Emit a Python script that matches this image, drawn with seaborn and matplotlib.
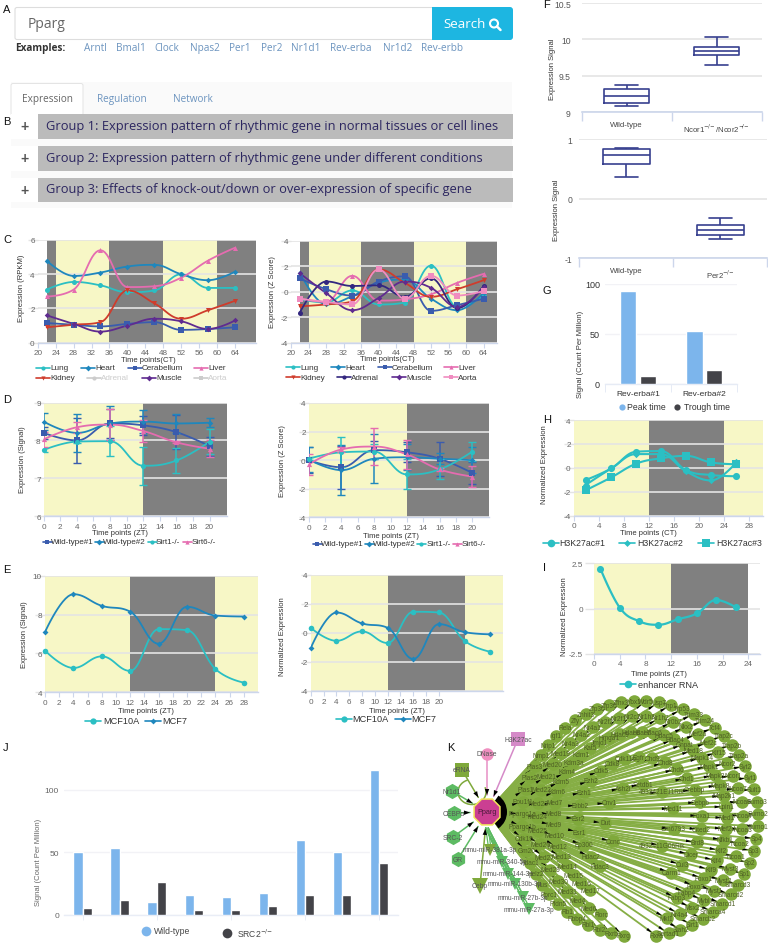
import numpy as np
import pandas as pd
import matplotlib
matplotlib.use("Agg")
import matplotlib.pyplot as plt
from matplotlib.collections import LineCollection
from matplotlib.patches import Circle, FancyBboxPatch, Rectangle, Wedge, Arc, RegularPolygon
import seaborn as sns

# ---------- data ----------
C_X = [22, 28, 34, 40, 46, 52, 58, 64]
C1_LUNG = [3.1, 3.55, 3.35, 2.95, 3.05, 4.0, 3.2, 3.2]
C1_HEART = [4.8, 3.9, 4.1, 4.45, 4.55, 4.0, 3.65, 4.15]
C1_CERE = [1.15, 1.05, 0.95, 1.1, 1.2, 0.75, 0.8, 0.9]
C1_LIVER = [2.7, 3.1, 5.4, 3.25, 3.3, 3.8, 4.8, 5.55]
C1_KIDNEY = [0.9, 1.05, 1.2, 3.05, 2.3, 1.4, 1.9, 2.45]
C1_MUSCLE = [1.6, 1.1, 0.65, 1.0, 1.4, 1.25, 0.8, 1.3]
C2_LUNG = [-0.6, -0.85, 0.1, -1.0, -0.85, 2.05, -1.2, -0.3]
C2_HEART = [1.5, -1.0, -0.35, 0.7, 0.95, -0.55, -1.45, -0.1]
C2_CERE = [1.05, 0.2, -0.3, 0.8, 1.2, -1.5, -1.05, -0.55]
C2_LIVER = [-0.55, -0.8, 1.25, -0.7, -0.6, -0.2, 0.7, 1.4]
C2_KIDNEY = [-1.15, -1.0, -0.75, 1.75, 0.7, -0.4, 0.2, 0.9]
C2_ADRENAL = [-1.65, 0.8, 0.45, 0.5, -0.4, 1.05, -1.3, 0.45]
C2_MUSCLE = [1.45, -0.1, -1.45, -0.5, 0.8, 0.3, -1.2, 0.35]
C2_AORTA = [-0.55, -0.8, -1.0, 1.75, -0.55, 1.25, -0.3, 0.05]

D_X = [0, 4, 8, 12, 16, 20]
D1_WT1 = [8.2, 8.0, 8.45, 8.4, 8.22, 7.85]
D1_WT1_E = [0.15, 0.6, 0.38, 0.25, 0.45, 0.25]
D1_WT2 = [8.5, 8.2, 8.45, 8.5, 8.45, 8.47]
D1_WT2_E = [0.23, 0.5, 0.45, 0.3, 0.25, 0.12]
D1_S1 = [7.75, 7.97, 7.98, 7.33, 7.47, 7.97]
D1_S1_E = [0.05, 0.03, 0.4, 0.5, 0.32, 0.33]
D1_S6 = [8.03, 8.35, 8.42, 8.25, 7.95, 7.78]
D1_S6_E = [0.2, 0.15, 0.4, 0.3, 0.03, 0.22]
D2_WT1 = [0.0, -0.5, 0.7, 0.55, 0.1, -0.9]
D2_WT1_E = [0.9, 1.5, 0.65, 0.7, 1.2, 0.75]
D2_WT2 = [0.05, -0.7, 0.1, 0.2, 0.1, 0.0]
D2_WT2_E = [0.85, 1.75, 1.7, 0.9, 0.4, 0.9]
D2_S1 = [0.1, 0.55, 0.6, -1.0, -0.65, 0.6]
D2_S1_E = [0.1, 1.05, 0.5, 1.05, 0.7, 0.65]
D2_S6 = [-0.3, 0.75, 0.95, 0.4, -0.65, -1.15]
D2_S6_E = [0.75, 0.2, 1.3, 1.0, 0.1, 0.75]

E_X = [0, 4, 8, 12, 16, 20, 24, 28]
E1_10A = [6.15, 5.25, 5.85, 5.1, 7.25, 7.2, 5.2, 4.5]
E1_MCF7 = [7.1, 9.05, 8.45, 8.15, 6.5, 8.4, 7.95, 7.9]
E2_10A = [0.35, -0.55, 0.1, -0.7, 1.45, 1.4, -0.55, -1.3]
E2_MCF7 = [-1.05, 1.4, 0.65, 0.35, -1.8, 0.6, 0.05, -0.1]

F1_CATS = ["Wild-type", r"Ncor1$^{-\!/\!-}$/Ncor2$^{-\!/\!-}$"]
F1_WT = [9.08, 9.13, 9.22, 9.32, 9.37]
F1_KO = [9.65, 9.78, 9.84, 9.9, 10.03]
F2_CATS = ["Wild-type", r"Per2$^{-\!/\!-}$"]
F2_WT = [0.36, 0.58, 0.74, 0.83, 0.85]
F2_KO = [-0.68, -0.61, -0.53, -0.44, -0.33]

G_CATS = ["Rev-erba#1", "Rev-erba#2"]
G_PEAK = [93, 53]
G_TROUGH = [8.5, 14]

H_X = [2, 6, 10, 14, 18, 22, 26]
H_1 = [-1.0, -0.05, 1.35, 1.4, -0.2, -0.6, -0.7]
H_2 = [-1.4, -0.05, 1.15, 1.15, -0.3, -1.05, 0.45]
H_3 = [-1.85, -0.8, 0.35, 0.8, 1.0, 0.45, 0.3]

I_X = [1, 4, 7, 10, 13, 16, 19, 22]
I_Y = [2.2, 0.05, -0.7, -0.9, -0.6, -0.27, 0.47, 0.07]

J_CATS = ["S1", "S2", "S3", "S4", "S5", "S6", "S7", "S8", "S9"]
J_WT = [50, 53, 10.5, 16, 14, 17.5, 60, 50, 116]
J_KO = [5, 12, 26, 3.5, 3.5, 7, 16, 16, 41]

EXAMPLES = ["Arntl", "Bmal1", "Clock", "Npas2", "Per1", "Per2", "Nr1d1", "Rev-erba", "Nr1d2", "Rev-erbb"]
GROUPS = ["Group 1: Expression pattern of rhythmic gene in normal tissues or cell lines",
          "Group 2: Expression pattern of rhythmic gene under different conditions",
          "Group 3: Effects of knock-out/down or over-expression of specific gene"]

RING_A = ["Rxrg", "Rxrb", "Rbl2", "Rbl1", "Rbbp4", "Rb1", "Pfdn5", "Pprc1", "Mus", "Helz2", "Hdac1", "Gm20", "Cdk19",
          "Ppargc1b", "Ppargc1a", "Pou1f1", "Plas1", "Plas2", "Plas3", "Nmp1", "Nrip1", "Igf1", "Rela", "Zfy", "Znhit3",
          "Zfp30", "Zfp36", "Zfhx3", "Ybx1", "Wdr5", "Usp7", "Tnp1", "Trp53", "Trim33", "Trim24", "Tcf4", "Tfap2c",
          "Tfap2b", "Tfap2a", "Syt2", "Syt1", "Sult1", "Sumo3", "Sumo2", "Sumo1", "Sp4", "Sp3", "Sp2", "Sp1",
          "Smarcd3", "Smarcd2", "Smarcd1", "Smarca4", "Smarcb2", "Sirt1", "Siah2", "Sertad1", "Rxra"]
RING_B = ["Rorc", "Med6", "Med4", "Med31", "Med30", "Med29", "Med27", "Med26", "Med25", "Med24", "Med23", "Med22",
          "Med21", "Med20", "Med19", "Nr4a3", "Nr4a2", "Nr4a1", "Nr2f2", "Nr2f1", "Nr2c2", "Nr1h3", "Nr1h2", "Nr0b2",
          "Nkx2", "Mef2a", "Mef2c", "Klf15", "Ncor2", "Ncor1", "Ncoa7", "Ncoa6", "Ncoa4", "Ncoa3", "Ncoa2", "Ncoa1",
          "Myst3", "Myst2", "Myst1", "Mybl", "Msx2", "Nr4a4", "Mkl1"]
RING_C = ["Med17", "Med16", "Med15", "Med14", "Med13", "Med12", "Med10", "Med9", "Med8", "Med7", "Kdm6", "Kdm5",
          "Kdm4", "Kdm3a", "Kdm1", "Kat5", "Jmjd1", "Hmga1", "Hdac9", "Hdac8", "Hdac7", "Hdac6", "Hdac5", "Hdac4",
          "Gnpat", "Med18", "Mapk14", "Mapk1", "Mapk3", "Mapk8", "Map2k1", "Lpin1", "Med1", "Mef2d", "Nfkb1", "Klf2",
          "Klf4", "Klf9", "Foxo1", "Foxo3", "Fabp4", "Fabp3"]
RING_D = ["Hdac3", "Hdac2", "Ep300", "Esr1", "Esr2", "Erbb2", "Ezh1", "Ezh2", "Cdk5", "Cdk8", "Cdk11b", "Egfr", "Chd9",
          "Chd8", "Chd6", "Chd1", "Crebbp", "Cebpb", "Foxa1", "Cited2", "Brd8", "Dicer", "Cul3", "Carm1"]
RING_E = ["Ccnc", "Dut", "Cnv1", "Ash2l", "Setdb1", "4933421E11Rik", "Med11", "Gm6793", "4932411G06Rik"]
MIRNAS = ["mmu-miR-381a-3p", "mmu-miR-340-5p", "mmu-miR-144-3p", "mmu-miR-130b-3p", "mmu-miR-27b-3p", "mmu-miR-27a-3p"]

# ---------- style ----------
W, H = 768, 945
sns.set_theme(style="white")
plt.rcParams["font.family"] = ["Liberation Sans", "DejaVu Sans"]
plt.rcParams["mathtext.fontset"] = "dejavusans"
TEAL, BLUE, NAVY, PINK = "#2bbfc3", "#1f87bd", "#3a5cae", "#e56cb0"
RED, INDIGO, PURPLE, APINK = "#cf3c2c", "#33277f", "#5f2b90", "#f08cc0"
YEL, GRY = "#f7f7c6", "#808080"
GRID, AXC, LAB = "#e4e4e4", "#ccd6eb", "#666666"
BAR1, BAR2 = "#7cb5ec", "#434348"
BOXC = "#37408f"
FS = 5.9
TS = 5.5

fig = plt.figure(figsize=(W / 100, H / 100), dpi=100, facecolor="white")
px = 0.72


def panel(left, right, top, bottom):
    return fig.add_axes([left / W, 1 - bottom / H, (right - left) / W, (bottom - top) / H])


def spline(xs, ys, n=14):
    xs, ys = np.asarray(xs, float), np.asarray(ys, float)
    m = len(xs)
    lx, ly, rx, ry = xs.copy(), ys.copy(), xs.copy(), ys.copy()
    for i in range(1, m - 1):
        lx[i] = (1.5 * xs[i] + xs[i - 1]) / 2.5
        ly[i] = (1.5 * ys[i] + ys[i - 1]) / 2.5
        rx[i] = (1.5 * xs[i] + xs[i + 1]) / 2.5
        ry[i] = (1.5 * ys[i] + ys[i + 1]) / 2.5
        c = (ry[i] - ly[i]) * (rx[i] - xs[i]) / (rx[i] - lx[i]) + ys[i] - ry[i]
        ly[i] += c
        ry[i] += c
        if ly[i] > max(ys[i - 1], ys[i]):
            ly[i] = max(ys[i - 1], ys[i])
            ry[i] = 2 * ys[i] - ly[i]
        elif ly[i] < min(ys[i - 1], ys[i]):
            ly[i] = min(ys[i - 1], ys[i])
            ry[i] = 2 * ys[i] - ly[i]
        if ry[i] > max(ys[i], ys[i + 1]):
            ry[i] = max(ys[i], ys[i + 1])
            ly[i] = 2 * ys[i] - ry[i]
        elif ry[i] < min(ys[i], ys[i + 1]):
            ry[i] = min(ys[i], ys[i + 1])
            ly[i] = 2 * ys[i] - ry[i]
    t = np.linspace(0, 1, n, endpoint=False)[:, None]
    out = []
    for i in range(m - 1):
        p0, p1 = np.array([xs[i], ys[i]]), np.array([rx[i], ry[i]])
        p2, p3 = np.array([lx[i + 1], ly[i + 1]]), np.array([xs[i + 1], ys[i + 1]])
        out.append((1 - t) ** 3 * p0 + 3 * (1 - t) ** 2 * t * p1 + 3 * (1 - t) * t ** 2 * p2 + t ** 3 * p3)
    out.append(np.array([[xs[-1], ys[-1]]]))
    out = np.vstack(out)
    return out[:, 0], out[:, 1]


def style_axes(ax, xticks, yticks, tl=10, yfmt=None):
    for s in ["top", "right", "left"]:
        ax.spines[s].set_visible(False)
    ax.spines["bottom"].set_color(AXC)
    ax.spines["bottom"].set_linewidth(1.0)
    ax.set_axisbelow("line")
    ax.yaxis.grid(True, color=GRID, lw=1.2)
    ax.xaxis.grid(False)
    ax.set_xticks(xticks)
    ax.set_yticks(yticks)
    if yfmt:
        ax.set_yticklabels(yfmt)
    ax.tick_params(axis="x", length=5 * px, width=0.8, color=AXC, labelsize=FS, labelcolor=LAB, pad=1.2, bottom=True)
    ax.tick_params(axis="y", length=tl * px, width=1.0, color=GRID, labelsize=FS, labelcolor=LAB,
                   pad=-(tl - 3) * px, left=True)
    ax.set_xlabel("")
    ax.set_ylabel("")


def labels(ax, box, xl=None, yl=None):
    if xl:
        fig.text(xl[1] / W, 1 - (xl[2] + 0.8) / H, xl[0], fontsize=TS, color="#333333", ha="center", va="center")
    if yl:
        fig.text(yl[1] / W, 1 - yl[2] / H, yl[0], fontsize=TS, color="#333333", ha="center", va="center",
                 rotation=90)


def time_panel(box, xlim, ylim, xticks, yticks, bands, xl, yl, tl=10, yfmt=None):
    ax = panel(*box)
    ax.set_xlim(*xlim)
    ax.set_ylim(*ylim)
    for a, b, c in bands:
        ax.axvspan(a, b, facecolor=c, edgecolor="none", lw=0, zorder=1)
    style_axes(ax, xticks, yticks, tl, yfmt)
    labels(ax, box, xl, yl)
    return ax


def series(ax, xs, ys, color, marker, ms=14, lw=1.3, yerr=None):
    cx, cy = spline(xs, ys)
    sns.lineplot(x=cx, y=cy, color=color, lw=lw, ax=ax, legend=False, sort=False, estimator=None, zorder=3)
    if yerr is not None:
        ax.errorbar(xs, ys, yerr=yerr, fmt="none", ecolor=color, elinewidth=1.1, capsize=3.2, capthick=1.0, zorder=3)
    sns.scatterplot(x=list(xs), y=list(ys), color=color, marker=marker, s=ms, ax=ax, legend=False,
                    edgecolor=color, linewidth=0, zorder=4, clip_on=False)
    ax.set_xlabel("")
    ax.set_ylabel("")


# overlay in pixel units
ov = fig.add_axes([0, 0, 1, 1], zorder=5)
ov.set_xlim(0, W)
ov.set_ylim(H, 0)
ov.axis("off")
ov.patch.set_alpha(0)


def key(x, tx, y, text, color, marker, ms=3.0, half=7, tc="#333333", fs=FS, line=True):
    if line:
        ov.plot([x - half, x + half], [y, y], color=color, lw=1.2, solid_capstyle="round")
    ov.plot([x], [y], marker=marker, ms=ms, color=color, mew=0)
    ov.text(tx, y, text, fontsize=fs, color=tc, va="center", ha="left")


# ---------- A / B: page chrome ----------
ov.add_patch(FancyBboxPatch((15, 8.5), 425, 32, boxstyle="round,pad=0,rounding_size=2", fc="white", ec="#dddddd", lw=0.8))
ov.add_patch(FancyBboxPatch((432, 8), 81, 33, boxstyle="round,pad=0,rounding_size=3", fc="#1db6e1", ec="none"))
ov.add_patch(Rectangle((432, 8), 6, 33, fc="#1db6e1", ec="none"))
ov.text(28, 25, "Pparg", fontsize=10, color="#666666", family="Open Sans", va="center")
ov.text(443.5, 25, "Search", fontsize=9.6, color="white", family="Open Sans", va="center")
ov.add_patch(Circle((494, 24.5), 4, fc="none", ec="white", lw=1.5))
ov.plot([497, 500.5], [27.5, 31], color="white", lw=1.8, solid_capstyle="round")
ov.text(15, 48.5, "Examples:", fontsize=7.2, color="#333333", family="Open Sans", weight="bold", va="center")
for name, x in zip(EXAMPLES, [84, 116, 154.5, 190, 229.5, 260.5, 291, 330, 382.5, 421.5]):
    ov.text(x, 48.5, name, fontsize=7.2, color="#6c94bf", family="Open Sans", va="center")
ov.add_patch(Rectangle((11, 83), 501, 126, fc="#fafafa", ec="none", zorder=0))
ov.add_patch(FancyBboxPatch((11, 84.5), 72, 32, boxstyle="round,pad=0,rounding_size=2", fc="white", ec="#e4e4e4", lw=0.7, zorder=0.5))
for name, x, c in zip(["Expression", "Regulation", "Network"], [22, 97, 173], ["#666666", "#6c94bf", "#6c94bf"]):
    ov.text(x, 99.5, name, fontsize=7.2, color=c, family="Open Sans", va="center")
for g, y in zip(GROUPS, [115, 147, 178.5]):
    ov.add_patch(Rectangle((11, y), 27, 24.5, fc="white", ec="none"))
    ov.add_patch(Rectangle((38, y), 474.5, 24.5, fc="#bbbbbb", ec="none"))
    ov.text(24.5, y + 12.2, "+", fontsize=10, color="#555555", weight="bold", ha="center", va="center")
    ov.text(46.5, y + 11.5, g, fontsize=9.3, color="#2c2660", family="Open Sans", va="center")
for s, x, y in [("A", 3, 10), ("B", 3, 122), ("C", 3, 240), ("D", 3, 400), ("E", 3, 570), ("F", 546, 5),
                ("G", 547, 291), ("H", 547, 420), ("I", 544, 568), ("J", 3, 748), ("K", 451, 748)]:
    ov.text(x, y, s, fontsize=8, color="#111111", ha="center" if x > 100 else "left", va="center")

# ---------- C ----------
C_BANDS = [(22, 24, GRY), (24, 36, YEL), (36, 48, GRY), (48, 60, YEL), (60, 70, GRY)]
C_T = list(range(20, 65, 4))
ax = time_panel((37.7, 255.7, 241, 343.7), (20, 68.6), (0, 6), C_T, [0, 2, 4, 6], C_BANDS,
                ("Time points(CT)", 148, 360), ("Expression (RPKM)", 22, 288))
for y, c, m in [(C1_LUNG, TEAL, "o"), (C1_HEART, BLUE, "D"), (C1_CERE, NAVY, "s"), (C1_LIVER, PINK, "^"),
                (C1_KIDNEY, RED, "v"), (C1_MUSCLE, PURPLE, "D")]:
    series(ax, C_X, y, c, m, ms=13 if m != "D" else 8)
for (x, tx, ty, t, c, m, tc) in [(43, 50, 369, "Lung", TEAL, "o", None), (88, 95, 369, "Heart", BLUE, "D", None),
                                 (135, 142, 369, "Cerabellum", NAVY, "s", None), (201, 208, 369, "Liver", PINK, "^", None),
                                 (43, 50, 379, "Kidney", RED, "v", None), (94, 101, 379, "Adrenal", "#cccccc", "o", "#cccccc"),
                                 (149, 156, 379, "Muscle", PURPLE, "D", None), (201, 208, 379, "Aorta", "#cccccc", "s", "#cccccc")]:
    key(x, tx, ty, t, c, m, tc=tc or "#333333")

ax = time_panel((291, 496.7, 241.7, 343.7), (20, 67), (-4, 4), C_T, [-4, -2, 0, 2, 4], C_BANDS,
                ("Time points(CT)", 387, 359), ("Expression (Z Score)", 273, 292),
                yfmt=["-4", "-2", "0", "2", "4"])
for y, c, m in [(C2_LUNG, TEAL, "o"), (C2_HEART, BLUE, "D"), (C2_CERE, NAVY, "s"), (C2_LIVER, PINK, "^"),
                (C2_KIDNEY, RED, "v"), (C2_ADRENAL, INDIGO, "o"), (C2_MUSCLE, PURPLE, "D"), (C2_AORTA, APINK, "s")]:
    series(ax, C_X, y, c, m, ms=13 if m != "D" else 8)
for (x, tx, ty, t, c, m) in [(293, 300, 368, "Lung", TEAL, "o"), (338, 345, 368, "Heart", BLUE, "D"),
                             (385, 392, 368, "Cerabellum", NAVY, "s"), (451, 458, 368, "Liver", PINK, "^"),
                             (293, 300, 378, "Kidney", RED, "v"), (344, 351, 378, "Adrenal", INDIGO, "o"),
                             (399, 406, 378, "Muscle", PURPLE, "D"), (451, 458, 378, "Aorta", APINK, "s")]:
    key(x, tx, ty, t, c, m)

# ---------- D ----------
D_T = list(range(0, 21, 2))
ax = time_panel((43.7, 226.7, 403.7, 517), (0, 22.05), (6, 9), D_T, [6, 7, 8, 9], [(0, 12, YEL), (12, 23, GRY)],
                ("Time points (ZT)", 120, 533), ("Expression (Signal)", 23, 460))
for y, e, c, m in [(D1_WT1, D1_WT1_E, NAVY, "s"), (D1_WT2, D1_WT2_E, BLUE, "D"),
                   (D1_S1, D1_S1_E, TEAL, "o"), (D1_S6, D1_S6_E, PINK, "^")]:
    series(ax, D_X, y, c, m, ms=14 if m != "D" else 8, yerr=e)
for x, tx, t, c, m in [(47, 51, "Wild-type#1", NAVY, "s"), (99, 103, "Wild-type#2", BLUE, "D"),
                       (152, 156, "Sirt1-/-", TEAL, "o"), (187, 192, "Sirt6-/-", PINK, "^")]:
    key(x, tx, 543, t, c, m, half=4.5)

ax = time_panel((308.7, 489, 404, 518.3), (0, 22.04), (-4, 4), D_T, [-4, -2, 0, 2, 4], [(0, 12, YEL), (12, 23, GRY)],
                ("Time points (ZT)", 391, 536), ("Expression (Z Score)", 283, 461), yfmt=["-4", "-2", "0", "2", "4"])
for y, e, c, m in [(D2_WT1, D2_WT1_E, NAVY, "s"), (D2_WT2, D2_WT2_E, BLUE, "D"),
                   (D2_S1, D2_S1_E, TEAL, "o"), (D2_S6, D2_S6_E, PINK, "^")]:
    series(ax, D_X, y, c, m, ms=14 if m != "D" else 8, yerr=e)
for x, tx, t, c, m in [(317, 321, "Wild-type#1", NAVY, "s"), (369, 373, "Wild-type#2", BLUE, "D"),
                       (421, 427, "Sirt1-/-", TEAL, "o"), (457, 462, "Sirt6-/-", PINK, "^")]:
    key(x, tx, 545, t, c, m, half=4.5)

# ---------- E ----------
ax = time_panel((45, 258.3, 576.7, 693.3), (0, 30.05), (4, 10), list(range(0, 29, 2)), [4, 6, 8, 10],
                [(0, 12, YEL), (12, 24, GRY), (24, 31, YEL)],
                ("Time points (ZT)", 146, 711), ("Expression (Signal)", 25, 635))
series(ax, E_X, E1_10A, TEAL, "o", ms=16)
series(ax, E_X, E1_MCF7, BLUE, "D", ms=9)
key(93, 103, 722, "MCF10A", TEAL, "o", ms=4.5, half=8, fs=6.6)
key(153, 162, 722, "MCF7", BLUE, "D", ms=3, half=8, fs=6.6)

ax = time_panel((310.7, 503, 575.7, 692), (0, 30), (-4, 4), list(range(0, 21, 2)), [-4, -2, 0, 2, 4],
                [(0, 12, YEL), (12, 24, GRY), (24, 31, YEL)],
                ("Time points (ZT)", 397, 711), ("Normalized Expression", 283, 637), yfmt=["-4", "-2", "0", "2", "4"])
series(ax, E_X, E2_10A, TEAL, "o", ms=16)
series(ax, E_X, E2_MCF7, BLUE, "D", ms=9)
key(344, 352, 720, "MCF10A", TEAL, "o", ms=4.5, half=8, fs=6.6)
key(403, 411, 720, "MCF7", BLUE, "D", ms=3, half=8, fs=6.6)


# ---------- F ----------
def box_panel(box, cats, a, b, ylim, yticks, yfmt, yl, ypad):
    ax = panel(*box)
    df = pd.DataFrame({"c": [cats[0]] * len(a) + [cats[1]] * len(b), "v": list(a) + list(b)})
    sns.boxplot(data=df, x="c", y="v", whis=(0, 100), width=0.5, fill=False, color=BOXC, linewidth=1.2, ax=ax)
    ax.set_xlim(-0.5, 1.5)
    ax.set_ylim(*ylim)
    style_axes(ax, [0, 1], yticks, tl=0, yfmt=yfmt)
    ax.set_xticks([-0.5, 0.5, 1.5], minor=True)
    ax.tick_params(axis="x", which="major", length=0, pad=6.5, colors="#444444", labelsize=5.6)
    ax.tick_params(axis="x", which="minor", length=9 * px, width=1.0, color=AXC, bottom=True)
    ax.tick_params(axis="y", pad=ypad * px, labelcolor="#555555", length=0, labelsize=FS + 0.3)
    ax.spines["bottom"].set_linewidth(1.2)
    labels(ax, box, None, yl)
    return ax


box_panel((581.7, 761.7, 4, 113.3), F1_CATS, F1_WT, F1_KO, (9, 10.5), [9, 9.5, 10, 10.5], ["9", "9.5", "10", "10.5"],
          ("Expression Signal", 553, 69), 11)
box_panel((579.3, 767.3, 140, 259.3), F2_CATS, F2_WT, F2_KO, (-1, 1), [-1, 0, 1], ["-1", "0", "1"],
          ("Expression Signal", 557, 210), 7)


# ---------- G / J bars ----------
def bar_panel(box, cats, a, b, ylim, yticks, width, gap):
    ax = panel(*box)
    df = pd.DataFrame({"c": list(cats) * 2, "v": list(a) + list(b),
                       "s": ["a"] * len(cats) + ["b"] * len(cats)})
    sns.barplot(data=df, x="c", y="v", hue="s", palette={"a": BAR1, "b": BAR2}, width=width, gap=gap, saturation=1,
                legend=False, ax=ax, zorder=3, errorbar=None)
    ax.set_xlim(-0.5, len(cats) - 0.5)
    ax.set_ylim(*ylim)
    style_axes(ax, list(range(len(cats))), yticks, tl=0)
    ax.yaxis.grid(True, color="#f2f2f6", lw=1.0)
    ax.tick_params(axis="y", pad=5 * px, length=0)
    return ax


ax = bar_panel((605, 737.3, 285, 385), G_CATS, G_PEAK, G_TROUGH, (0, 100), [0, 50, 100], 0.6, 0.17)
ax.spines["bottom"].set_color("#e6ebf5")
ax.set_xticks([-0.5, 0.5, 1.5], minor=True)
ax.tick_params(axis="x", which="major", length=0, pad=4, labelcolor="#333333", labelsize=FS + 0.1)
ax.tick_params(axis="x", which="minor", length=8 * px, width=0.7, color="#e6ebf5", bottom=True)
ax.tick_params(axis="y", labelcolor="#333333", labelsize=FS + 0.6)
labels(ax, (605, 737.3, 285, 385), None, ("Signal (Count Per Million)", 581, 354))
key(622, 627, 408, "Peak time", BAR1, "o", ms=4.5, line=False, fs=6.2)
key(677, 684, 408, "Trough time", BAR2, "o", ms=4.5, line=False, fs=6.2)

ax = bar_panel((64, 397.7, 727.5, 915.7), J_CATS, J_WT, J_KO, (0, 150.6), [0, 50, 100], 0.5, 0)
ax.set_xticks([0, 2, 4, 6, 8])
ax.set_xticklabels([""] * 5)
ax.spines["bottom"].set_color("#e9edf6")
ax.tick_params(axis="x", length=5 * px, width=0.7, color="#e9edf6")
ax.tick_params(axis="y", labelsize=FS + 0.2, labelcolor="#666666")
fig.text(38 / W, 1 - 862 / H, "Signal (Count Per Million)", fontsize=TS, color="#666666", ha="center", va="center", rotation=90)
key(146, 154, 932, "Wild-type", BAR1, "o", ms=7, line=False, fs=6.2, tc="#444444")
key(227, 237, 934, r"SRC2$^{-\!/\!-}$", BAR2, "o", ms=7, line=False, fs=6.2, tc="#444444")

# ---------- H ----------
ax = time_panel((573.7, 762.7, 421, 516.7), (0, 30.24), (-4, 4), list(range(0, 29, 4)), [-4, -2, 0, 2, 4],
                [(0, 12, YEL), (12, 24, GRY), (24, 31, YEL)],
                ("Time points (CT)", 648, 533), ("Normalized Expression", 545, 465), yfmt=["-4", "-2", "0", "2", "4"])
series(ax, H_X, H_1, TEAL, "o", ms=26, lw=1.5)
series(ax, H_X, H_2, TEAL, "D", ms=14, lw=1.5)
series(ax, H_X, H_3, TEAL, "s", ms=26, lw=1.5)
key(551, 559, 544, "H3K27ac#1", TEAL, "o", ms=5.5, half=8, fs=6.3)
key(627, 637, 544, "H3K27ac#2", TEAL, "D", ms=3.5, half=8, fs=6.3)
key(706, 716, 544, "H3K27ac#3", TEAL, "s", ms=5.5, half=8, fs=6.3)

# ---------- I ----------
ax = time_panel((594, 760, 564.3, 654.7), (0, 25.8), (-2.5, 2.5), list(range(0, 25, 4)), [-2.5, 0, 2.5],
                [(0, 12, YEL), (12, 24, GRY)],
                ("Time points (ZT)", 659, 674), ("Normalized Expression", 564, 617),
                tl=9, yfmt=["-2.5", "0", "2.5"])
ax.tick_params(axis="y", pad=1.5)
series(ax, I_X, I_Y, TEAL, "o", ms=26, lw=1.6)
key(628, 638, 685, "enhancer RNA", TEAL, "o", ms=5.5, half=8, fs=6.6)

# ---------- K network ----------
NODE, NODEDK = "#7fa93b", "#4e5f24"
PP = np.array([487.0, 813.0])
CX, CY = 640.0, 820.0
rings = [(RING_A, 118, 8, 352), (RING_B, 103, 22, 345), (RING_C, 87, 35, 335), (RING_D, 62, 40, 330), (RING_E, 35, 50, 320)]
pts, names = [], []
for nm, R, a0, a1 in rings:
    for ph, n in zip(np.deg2rad(np.linspace(a0, a1, len(nm))), nm):
        pts.append((CX - R * np.sin(ph), CY + R * np.cos(ph)))
        names.append(n)
pts = np.array(pts)
ov.add_collection(LineCollection([[PP, p] for p in pts], colors="#86ae45", linewidths=1.3, zorder=1))
d = pts - PP
u = d / np.linalg.norm(d, axis=1, keepdims=True)
nrm = np.c_[-u[:, 1], u[:, 0]]
tip = pts - u * 5.5
base = tip - u * 6
for t, b, n_ in zip(tip, base, nrm):
    ov.fill([t[0], b[0] + n_[0] * 1.4, b[0] - n_[0] * 1.4], [t[1], b[1] + n_[1] * 1.4, b[1] - n_[1] * 1.4],
            color="black", lw=0, zorder=1.2)
ov.scatter(pts[:, 0], pts[:, 1], s=82, color=NODE, linewidths=0, zorder=2)
for p, n in zip(pts, names):
    ov.text(p[0], p[1], n, fontsize=4.7, color=NODEDK, ha="center", va="center", zorder=3, clip_on=True)

ov.add_patch(Wedge(tuple(PP), 20, -55, 55, width=8, fc="black", ec="none", zorder=2))
small = [("eRNA", 462, 771, "s", "#7fa93b", 10, "#7fa93b"), ("Nr1d1", 452, 792, "h", "#5dbb63", 11, "#5dbb63"),
         ("CEBP\u03b1", 454, 814, "h", "#5dbb63", 11, "#5dbb63"), ("SRC-2", 453, 838, "h", "#5dbb63", 11, "#5dbb63"),
         ("GR", 458, 860, "h", "#5dbb63", 11, "#5dbb63"), ("DNase", 487, 755, "o", "#ef8fc0", 9, "#e78fc5"),
         ("H3K27ac", 518, 740, "s", "#d58ac8", 10, "#d58ac8"), ("Cebp", 480, 887, "v", "#7fa93b", 11, "#7fa93b")]
for nm, x, y, m, c, ms, ec in small:
    p = np.array([x, y], float)
    v = PP - p
    v /= np.linalg.norm(v)
    end = PP - v * 17
    ov.plot([p[0], end[0]], [p[1], end[1]], color=ec, lw=1.1, zorder=1.5)
    n_ = np.array([-v[1], v[0]])
    b = end - v * 6
    ov.fill([end[0], b[0] + n_[0] * 2.2, b[0] - n_[0] * 2.2], [end[1], b[1] + n_[1] * 2.2, b[1] - n_[1] * 2.2],
            color="black", lw=0, zorder=1.8)
    ov.plot([x], [y], marker=m, ms=ms, color=c, mew=0, zorder=2)
    ov.text(x, y, nm, fontsize=4.9, color="#555555", ha="center", va="center", zorder=3)
ov.add_patch(Arc((472, 793), 28, 25, angle=0, theta1=-20, theta2=250, color="#7fa93b", lw=1.1, zorder=1.5))
mir_xy = [(490, 851), (502, 863), (508, 875), (515, 885), (523, 898), (529, 910)]
for nm, (x, y) in zip(MIRNAS, mir_xy):
    for off in (-1.2, 1.2):
        ov.plot([PP[0] + off, x + off], [PP[1] + 16, y], color="#5dbb63", lw=0.9, zorder=1.5)
    ov.plot([x], [y], marker="v", ms=8, color="#5dbb63" if nm != MIRNAS[0] else "#7fa93b", mew=0, zorder=2)
    ov.text(x, y, nm, fontsize=4.7, color="#555555", ha="center", va="center", zorder=3)
ov.add_patch(RegularPolygon(tuple(PP), 8, radius=14, orientation=np.pi / 8, fc="#cb3f92", ec="#f2e65a", lw=1.1, zorder=2.5))
ov.text(PP[0], PP[1], "Pparg", fontsize=5.2, color="#4a1a3a", ha="center", va="center", zorder=3)

fig.savefig("out.png", dpi=100, facecolor="white")
